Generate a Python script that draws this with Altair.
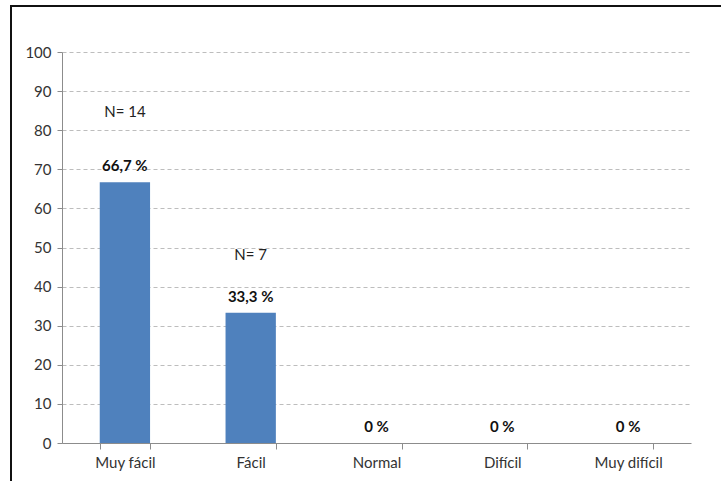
import altair as alt
import pandas as pd

categories = ["Muy fácil", "Fácil", "Normal", "Difícil", "Muy difícil"]
percentages = [66.7, 33.3, 0, 0, 0]
counts = [14, 7, 0, 0, 0]
y_ticks = list(range(0, 101, 10))

def fmt(v):
    return "0 %" if v == 0 else f"{v:.1f}".replace(".", ",") + " %"

df = pd.DataFrame({
    "cat": categories,
    "pct": percentages,
    "n": counts,
    "label": [fmt(v) for v in percentages],
    "nlabel": [f"N= {n}" if n else "" for n in counts],
})

FONT = "Lato"
BLUE = "#4F81BD"

x_enc = alt.X(
    "cat:N", sort=categories, title=None,
    scale=alt.Scale(paddingInner=0.6, paddingOuter=0.3),
    axis=alt.Axis(labelAngle=0, tickBand="extent", tickSize=6, tickColor="#8c8c8c",
                  domainColor="#8c8c8c", labelFontSize=15, labelColor="#333333",
                  labelFont=FONT, labelPadding=6, grid=False),
)
y_enc = alt.Y(
    "pct:Q", title=None,
    scale=alt.Scale(domain=[0, 100], nice=False),
    axis=alt.Axis(values=y_ticks, tickSize=5, tickColor="#8c8c8c", domainColor="#8c8c8c",
                  labelFontSize=15, labelColor="#333333", labelFont=FONT, labelPadding=6,
                  labelOverlap=False,
                  grid=True, gridColor="#bdbdbd", gridDash=[4, 3], gridWidth=1),
)

base = alt.Chart(df)

bars = base.mark_bar(color=BLUE).encode(x=x_enc, y=y_enc)

pct_text = base.mark_text(fontWeight="bold", fontSize=15, font=FONT, color="#111111",
                          baseline="middle", dy=-16).encode(
    x=x_enc, y=y_enc, text="label:N")

n1 = base.transform_filter(alt.datum.n == 14).mark_text(
    fontSize=15, font=FONT, color="#222222", baseline="middle", dy=-70).encode(
    x=x_enc, y=y_enc, text="nlabel:N")
n2 = base.transform_filter(alt.datum.n == 7).mark_text(
    fontSize=15, font=FONT, color="#222222", baseline="middle", dy=-58).encode(
    x=x_enc, y=y_enc, text="nlabel:N")

border = alt.Chart(pd.DataFrame({"d": [0]})).mark_rect(
    fill=None, stroke="#111111", strokeWidth=2, clip=False).encode(
    x=alt.value(-51), x2=alt.value(700), y=alt.value(-46), y2=alt.value(480))

chart = alt.layer(bars, pct_text, n1, n2, border).properties(
    width=629, height=391,
    autosize=alt.AutoSizeParams(type="none"),
    padding={"left": 62, "top": 52, "right": 30, "bottom": 38},
    background="white",
).configure_view(stroke=None)

chart.save("out.html", embed_options={"renderer": "svg", "actions": False})
